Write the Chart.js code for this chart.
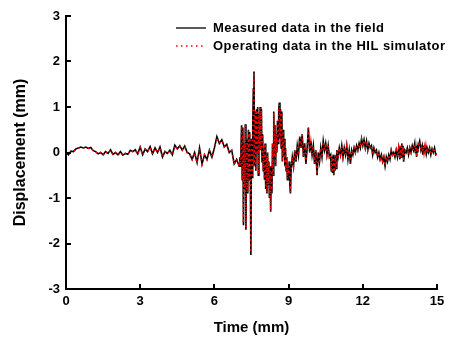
<!DOCTYPE html>
<html>
<head>
<meta charset="utf-8">
<script src="https://cdn.jsdelivr.net/npm/chart.js@4.4.1/dist/chart.umd.min.js"></script>
<style>
  html, body { margin: 0; padding: 0; background: #fff; }
  canvas { display: block; }
</style>
</head>
<body>
<canvas id="waveChart" width="450" height="338"></canvas>
<script>
// Data (time in s, displacement in mm)
const timeS = [
  0, 0.1, 0.2, 0.3, 0.4, 0.5, 0.6, 0.7, 0.8, 0.9,
  1.0, 1.1, 1.2, 1.3, 1.4, 1.5, 1.6, 1.7, 1.8, 1.9,
  2.0, 2.1, 2.2, 2.3, 2.4, 2.5, 2.6, 2.7, 2.8, 2.9,
  3.0, 3.1, 3.2, 3.3, 3.4, 3.5, 3.6, 3.7, 3.8, 3.9,
  4.0, 4.1, 4.2, 4.3, 4.4, 4.5, 4.6, 4.7, 4.8, 4.9,
  5.0, 5.1, 5.2, 5.3, 5.4, 5.5, 5.6, 5.7, 5.8, 5.9,
  6.0, 6.1, 6.2, 6.3, 6.4, 6.5, 6.6, 6.7, 6.8, 6.9,
  7.0, 7.025, 7.05, 7.075, 7.1, 7.125, 7.15, 7.175, 7.2, 7.225,
  7.25, 7.275, 7.3, 7.325, 7.35, 7.375, 7.4, 7.425, 7.45, 7.475,
  7.5, 7.525, 7.55, 7.575, 7.6, 7.625, 7.65, 7.675, 7.7, 7.725,
  7.75, 7.775, 7.8, 7.825, 7.85, 7.875, 7.9, 7.925, 7.95, 7.975,
  8.0, 8.025, 8.05, 8.075, 8.1, 8.125, 8.15, 8.175, 8.2, 8.225,
  8.25, 8.275, 8.3, 8.325, 8.35, 8.375, 8.4, 8.425, 8.45, 8.475,
  8.5, 8.525, 8.55, 8.575, 8.6, 8.625, 8.65, 8.675, 8.7, 8.725,
  8.75, 8.775, 8.8, 8.825, 8.85, 8.875, 8.9, 8.925, 8.95, 8.975,
  9.0, 9.025, 9.05, 9.075, 9.1, 9.15, 9.2, 9.25, 9.3, 9.35,
  9.4, 9.45, 9.5, 9.55, 9.6, 9.65, 9.7, 9.75, 9.8, 9.85,
  9.9, 9.95, 10.0, 10.05, 10.1, 10.15, 10.2, 10.25, 10.3, 10.35,
  10.4, 10.45, 10.5, 10.55, 10.6, 10.65, 10.7, 10.725, 10.75, 10.775,
  10.8, 10.825, 10.85, 10.875, 10.9, 10.925, 10.95, 11.0, 11.05, 11.1,
  11.15, 11.2, 11.25, 11.3, 11.35, 11.4, 11.45, 11.5, 11.55, 11.6,
  11.65, 11.7, 11.75, 11.8, 11.85, 11.9, 11.95, 12.0, 12.05, 12.1,
  12.15, 12.2, 12.25, 12.3, 12.35, 12.4, 12.45, 12.5, 12.55, 12.6,
  12.65, 12.7, 12.75, 12.8, 12.85, 12.9, 12.95, 13.0, 13.05, 13.1,
  13.15, 13.2, 13.25, 13.3, 13.35, 13.4, 13.45, 13.5, 13.525, 13.55,
  13.575, 13.6, 13.625, 13.65, 13.7, 13.75, 13.8, 13.85, 13.9, 13.95,
  14.0, 14.05, 14.1, 14.125, 14.15, 14.175, 14.2, 14.225, 14.25, 14.3,
  14.35, 14.4, 14.425, 14.45, 14.475, 14.5, 14.525, 14.55, 14.575, 14.6,
  14.65, 14.7, 14.75, 14.8, 14.85, 14.9, 14.95, 15.0
];

const measuredMm = [
  0, -0.05, 0.03, 0.02, 0.08, 0.1, 0.12, 0.1, 0.12, 0.09,
  0.11, 0.04, 0.02, -0.03, 0, -0.05, 0.02, -0.02, 0.06, -0.04,
  0, -0.05, 0.02, -0.06, -0.02, -0.04, 0.05, 0.02, 0.06, -0.03,
  0.12, -0.05, 0.08, 0.02, 0.13, -0.03, 0.1, 0, 0.12, -0.1,
  0.02, -0.02, 0.05, -0.05, 0.16, 0.08, 0.15, 0.05, 0.14, 0,
  -0.03, -0.15, 0, -0.22, 0.1, -0.25, -0.05, -0.15, 0.05, -0.1,
  0.1, 0.35, 0.2, 0.28, 0.12, 0.18, 0, 0.05, -0.25, -0.15,
  -0.3, -0.1, -0.3, 0.1, 0.6, -0.6, 0.55, -1.6, 0.2, -0.8,
  0.62, -1.7, -0.2, 0.3, -0.9, 0.5, -0.6, 0.45, -0.3, -2.25,
  0.3, -0.55, 0.6, 1.4, 1.78, -0.3, 0.9, -0.4, 0.95, 0,
  1.0, -0.5, 0.85, 0.2, 1.0, 0.05, 0.95, -0.2, 0.4, -0.4,
  0.1, -0.6, 0.2, -0.8, -0.1, -0.9, 0, -0.7, -0.2, -1.0,
  -0.3, -1.3, -0.4, -0.9, 0.2, -0.5, 0.9, -0.1, 0.6, -0.3,
  0.4, 0, 0.7, 0.2, 0.95, 1.1, 0.3, 0.95, 0.1, 0.9,
  -0.2, 0.5, -0.1, 0.3, -0.3, 0.1, -0.4, -0.1, -0.6, -0.3,
  -0.5, -0.2, -0.7, -0.9, -0.4, -0.1, -0.3, 0.05, -0.2, 0.15,
  -0.05, 0.35, 0.1, 0.4, -0.1, 0.2, -0.25, 0.1, 0.55, 0,
  0.25, -0.05, 0.15, -0.25, 0.05, -0.5, 0, -0.2, 0.1, -0.1,
  0.25, 0.05, 0.2, -0.05, 0.15, -0.1, -0.05, -0.4, -0.1, -0.45,
  -0.05, -0.5, -0.15, -0.4, -0.05, -0.35, 0.05, -0.1, 0.1, -0.05,
  0.15, -0.1, 0.1, -0.05, 0.15, -0.15, 0.05, -0.25, 0.05, -0.05,
  0.1, 0, 0.15, 0.05, 0.2, 0.1, 0.3, 0.15, 0.28, 0.1,
  0.25, 0.05, 0.2, 0.1, 0.15, -0.05, 0.1, 0, 0.05, -0.1,
  0, -0.15, -0.05, -0.2, -0.1, -0.3, -0.1, -0.2, -0.05, -0.15,
  0.05, -0.05, 0, -0.1, 0.05, -0.1, 0.1, -0.15, 0.15, -0.1,
  0.2, -0.05, 0.15, -0.2, 0.05, 0, 0.1, -0.05, 0.1, 0,
  0.15, 0.05, 0.2, 0, 0.15, -0.1, 0.1, 0, 0.15, 0.25,
  0.05, 0.15, -0.05, 0.15, 0, 0.12, 0.02, 0.15, 0, 0.1,
  0, 0.1, -0.05, 0.08, 0, 0.1, -0.05, -0.03
];

const simulatorMm = [
  0, -0.04, 0.02, 0.02, 0.07, 0.1, 0.11, 0.1, 0.11, 0.09,
  0.1, 0.04, 0.01, -0.04, 0, -0.06, 0.02, -0.03, 0.05, -0.05,
  0, -0.06, 0.01, -0.07, -0.02, -0.05, 0.04, 0.02, 0.05, -0.04,
  0.11, -0.06, 0.07, 0.02, 0.12, -0.04, 0.09, 0, 0.11, -0.11,
  0.02, -0.03, 0.04, -0.06, 0.15, 0.08, 0.14, 0.05, 0.13, -0.01,
  -0.04, -0.16, 0, -0.24, 0.09, -0.26, -0.05, -0.16, 0.04, -0.11,
  0.09, 0.33, 0.2, 0.27, 0.12, 0.17, 0, 0.04, -0.26, -0.15,
  -0.3, -0.1, -0.28, 0.1, 0.58, -0.6, 0.52, -1.55, 0.2, -0.78,
  0.6, -1.65, -0.2, 0.3, -0.88, 0.48, -0.6, 0.44, -0.3, -2.2,
  0.28, -0.55, 0.58, 1.38, 1.75, -0.3, 0.88, -0.4, 0.93, 0,
  0.98, -0.48, 0.84, 0.2, 0.98, 0.05, 0.93, -0.2, 0.4, -0.4,
  0.1, -0.58, 0.2, -0.78, -0.1, -0.88, 0, -0.7, -0.2, -0.98,
  -0.3, -1.26, -0.4, -0.88, 0.2, -0.5, 0.88, -0.1, 0.58, -0.3,
  0.4, 0, 0.68, 0.2, 0.93, 1.06, 0.3, 0.93, 0.1, 0.88,
  -0.2, 0.48, -0.1, 0.3, -0.3, 0.1, -0.4, -0.1, -0.58, -0.3,
  -0.48, -0.2, -0.68, -0.88, -0.4, -0.1, -0.3, 0.05, -0.2, 0.14,
  -0.05, 0.34, 0.1, 0.39, -0.1, 0.2, -0.24, 0.1, 0.53, 0,
  0.24, -0.05, 0.15, -0.24, 0.05, -0.48, 0, -0.2, 0.1, -0.1,
  0.24, 0.05, 0.2, -0.05, 0.15, -0.1, -0.05, -0.39, -0.1, -0.44,
  -0.05, -0.48, -0.15, -0.39, -0.05, -0.34, 0.05, -0.1, 0.1, -0.05,
  0.14, -0.1, 0.1, -0.05, 0.14, -0.15, 0.05, -0.24, 0.05, -0.05,
  0.1, 0, 0.14, 0.05, 0.19, 0.1, 0.29, 0.15, 0.27, 0.1,
  0.24, 0.05, 0.19, 0.1, 0.14, -0.05, 0.1, 0, 0.05, -0.1,
  0, -0.14, -0.05, -0.19, -0.1, -0.29, -0.1, -0.19, -0.05, -0.14,
  0.05, -0.05, 0, -0.1, 0.05, -0.1, 0.1, -0.14, 0.14, -0.1,
  0.19, -0.05, 0.14, -0.19, 0.05, 0, 0.1, -0.05, 0.1, 0,
  0.14, 0.05, 0.19, 0, 0.14, -0.1, 0.1, 0, 0.14, 0.24,
  0.05, 0.14, -0.05, 0.14, 0, 0.12, 0.02, 0.14, 0, 0.1,
  0, 0.1, -0.05, 0.08, 0, 0.1, -0.05, -0.03
];

const seriesNames = ["Measured data in the field", "Operating data in the HIL simulator"];
const xTicks = [0, 3, 6, 9, 12, 15];
const yTicks = [-3, -2, -1, 0, 1, 2, 3];

const FONT = "'Liberation Sans', Arial, sans-serif";

function toPoints(values) {
  return timeS.map((t, i) => ({ x: t, y: values[i] }));
}

// Inward tick marks like the original plot
const inwardTicks = {
  id: "inwardTicks",
  afterDatasetsDraw(chart) {
    const { ctx, chartArea } = chart;
    const xs = chart.scales.x;
    const ys = chart.scales.y;
    ctx.save();
    ctx.strokeStyle = "#000";
    ctx.lineWidth = 2;
    xs.ticks.forEach((tk) => {
      const px = Math.round(xs.getPixelForValue(tk.value));
      ctx.beginPath();
      ctx.moveTo(px, chartArea.bottom);
      ctx.lineTo(px, chartArea.bottom - 5);
      ctx.stroke();
    });
    ys.ticks.forEach((tk) => {
      const py = Math.round(ys.getPixelForValue(tk.value));
      ctx.beginPath();
      ctx.moveTo(chartArea.left, py);
      ctx.lineTo(chartArea.left + 5, py);
      ctx.stroke();
    });
    ctx.restore();
  },
};

// Legend drawn in the top right corner of the plot
const cornerLegend = {
  id: "cornerLegend",
  afterDraw(chart) {
    const { ctx } = chart;
    const rows = [
      { y: 28, color: "#000", dash: [], width: 1.3 },
      { y: 46, color: "#ff0000", dash: [1.5, 3.5], width: 1.5 },
    ];
    ctx.save();
    rows.forEach((r, i) => {
      ctx.beginPath();
      ctx.setLineDash(r.dash);
      ctx.strokeStyle = r.color;
      ctx.lineWidth = r.width;
      ctx.moveTo(176, r.y);
      ctx.lineTo(206, r.y);
      ctx.stroke();
      ctx.setLineDash([]);
      ctx.fillStyle = "#000";
      ctx.font = "bold 13px " + FONT;
      ctx.letterSpacing = "0.45px";
      ctx.textBaseline = "middle";
      ctx.textAlign = "left";
      ctx.fillText(seriesNames[i], 213, r.y);
    });
    ctx.restore();
  },
};

new Chart(document.getElementById("waveChart"), {
  type: "line",
  data: {
    datasets: [
      {
        label: seriesNames[0],
        data: toPoints(measuredMm),
        borderColor: "#000",
        borderWidth: 1.6,
        pointRadius: 0,
        tension: 0,
        order: 2,
      },
      {
        label: seriesNames[1],
        data: toPoints(simulatorMm),
        borderColor: "#ff0000",
        borderWidth: 1.5,
        borderDash: [1.5, 3.5],
        pointRadius: 0,
        tension: 0,
        order: 1,
      },
    ],
  },
  options: {
    responsive: false,
    animation: false,
    devicePixelRatio: 1,
    layout: { padding: { left: 0, top: 16, right: 13, bottom: 0 } },
    plugins: { legend: { display: false }, tooltip: { enabled: false } },
    scales: {
      x: {
        type: "linear",
        min: 0,
        max: 15,
        afterBuildTicks: (scale) => {
          scale.ticks = xTicks.map((v) => ({ value: v }));
        },
        afterFit: (scale) => {
          scale.height = 49;
        },
        grid: { display: false, drawTicks: false },
        border: { display: true, color: "#000", width: 2 },
        ticks: {
          color: "#000",
          padding: 5,
          maxRotation: 0,
          font: { family: FONT, size: 13, weight: "bold" },
        },
        title: {
          display: true,
          text: "Time (mm)",
          color: "#000",
          padding: { top: 0, bottom: 1 },
          font: { family: FONT, size: 15, weight: "bold" },
        },
      },
      y: {
        type: "linear",
        min: -3,
        max: 3,
        afterBuildTicks: (scale) => {
          scale.ticks = yTicks.map((v) => ({ value: v }));
        },
        afterFit: (scale) => {
          scale.width = 66;
        },
        grid: { display: false, drawTicks: false },
        border: { display: true, color: "#000", width: 2 },
        ticks: {
          color: "#000",
          padding: 6,
          font: { family: FONT, size: 13, weight: "bold" },
        },
        title: {
          display: true,
          text: "Displacement (mm)",
          color: "#000",
          padding: { top: 11, bottom: 0 },
          font: { family: FONT, size: 16, weight: "bold" },
        },
      },
    },
  },
  plugins: [inwardTicks, cornerLegend],
});
</script>
</body>
</html>
